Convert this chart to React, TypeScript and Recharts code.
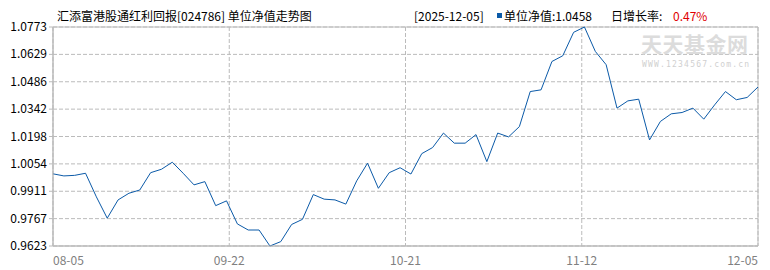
import React from 'react';
import { LineChart, Line, XAxis, YAxis, CartesianGrid, ReferenceArea } from 'recharts';

const navValues: number[] = [
  1.0002, 0.9991, 0.9994, 1.0005, 0.9881, 0.9769, 0.9865, 0.99, 0.9917, 1.0008,
  1.0026, 1.0063, 1.0005, 0.9944, 0.9961, 0.9835, 0.986, 0.9739, 0.9707, 0.9707,
  0.9623, 0.9646, 0.9736, 0.9763, 0.9893, 0.9869, 0.9865, 0.9843, 0.9965, 1.0058,
  0.9926, 1.0008, 1.0034, 1.0001, 1.0108, 1.014, 1.0216, 1.0163, 1.0163, 1.0208,
  1.0066, 1.0216, 1.0196, 1.025, 1.0434, 1.0443, 1.0592, 1.0622, 1.0745, 1.0773,
  1.0645, 1.0575, 1.0347, 1.0385, 1.0394, 1.018, 1.0277, 1.0317, 1.0324, 1.0347,
  1.0289, 1.0364, 1.0434, 1.0391, 1.0403, 1.0458,
];

const xTickLabels: string[] = ['08-05', '09-22', '10-21', '11-12', '12-05'];
const yTickLabels: string[] = ['0.9623', '0.9767', '0.9911', '1.0054', '1.0198', '1.0342', '1.0486', '1.0629', '1.0773'];
const yMin = 0.9623;
const yMax = 1.0773;

const titleText = '汇添富港股通红利回报[024786] 单位净值走势图';
const dateText = '[2025-12-05]';
const navLabel = '单位净值:1.0458';
const growthLabel = '日增长率:';
const growthValue = '0.47%';
const watermarkText = '天天基金网';
const watermarkUrl = 'WWW.1234567.com.cn';

const data = navValues.map((v, i) => ({ idx: i, nav: v }));
const lastIdx = navValues.length - 1;
const xTicks = xTickLabels.map((_, i) => (lastIdx * i) / (xTickLabels.length - 1));
const yTicks = yTickLabels.map((_, i) => yMin + ((yMax - yMin) * i) / (yTickLabels.length - 1));

const FONT = '"Noto Sans CJK SC", "DejaVu Sans", sans-serif';

const XTick = (props: any) => {
  const { x, y, payload, index } = props;
  const i = payload && payload.index !== undefined ? payload.index : index;
  const anchor = i === 0 ? 'start' : i === xTickLabels.length - 1 ? 'end' : 'middle';
  return (
    <text x={x} y={y + 11} textAnchor={anchor} fill="#808080" fontSize={12} fontFamily={FONT}>
      {xTickLabels[i]}
    </text>
  );
};

const YTick = (props: any) => {
  const { x, y, payload, index } = props;
  const i = payload && payload.index !== undefined ? payload.index : index;
  return (
    <text x={x} y={y + 4} textAnchor="end" fill="#000" fontSize={12} fontFamily={FONT}>
      {yTickLabels[i]}
    </text>
  );
};

const span = (left: number, top: number, extra: React.CSSProperties = {}): React.CSSProperties => ({
  position: 'absolute',
  left,
  top,
  fontSize: 12,
  lineHeight: '14px',
  fontFamily: FONT,
  whiteSpace: 'nowrap',
  color: '#000',
  ...extra,
});

export default function App() {
  return (
    <div style={{ position: 'absolute', left: 0, top: 0, width: 770, height: 270, background: '#fff', overflow: 'hidden' }}>
      <LineChart width={770} height={270} data={data} margin={{ top: 27, right: 12, bottom: 0, left: 0 }}>
        <CartesianGrid stroke="#bbbbbb" strokeDasharray="4 2" />
        <XAxis
          dataKey="idx"
          type="number"
          domain={[0, lastIdx]}
          ticks={xTicks}
          interval={0}
          height={24}
          axisLine={{ stroke: '#bbbbbb' }}
          tickLine={false}
          tick={<XTick />}
        />
        <YAxis
          type="number"
          domain={[yMin, yMax]}
          ticks={yTicks}
          interval={0}
          width={53}
          axisLine={{ stroke: '#bbbbbb' }}
          tickLine={{ stroke: '#bbbbbb' }}
          tickSize={4}
          tick={<YTick />}
        />
        <ReferenceArea x1={0} x2={lastIdx} y1={yMin} y2={yMax} fill="none" stroke="#bbbbbb" strokeWidth={1} />
        <Line type="linear" dataKey="nav" stroke="#0b5aa8" strokeWidth={1} dot={false} isAnimationActive={false} />
      </LineChart>
      <div style={span(641, 33, { fontSize: 21, lineHeight: '21px', color: '#dcdcdc', fontWeight: 700, letterSpacing: 0.5 })}>{watermarkText}</div>
      <div style={span(642, 61, { fontSize: 8, lineHeight: '8px', color: '#d0d0d0', letterSpacing: 1.2, fontFamily: '"DejaVu Sans Mono", monospace' })}>{watermarkUrl}</div>
      <div style={span(57, 9)}>{titleText}</div>
      <div style={span(414, 9)}>{dateText}</div>
      <div style={span(497, 13, { width: 5, height: 5, background: '#0b5aa8' })} />
      <div style={span(504, 9)}>{navLabel}</div>
      <div style={span(611, 9)}>{growthLabel}</div>
      <div style={span(673, 9, { color: '#e00000' })}>{growthValue}</div>
    </div>
  );
}
